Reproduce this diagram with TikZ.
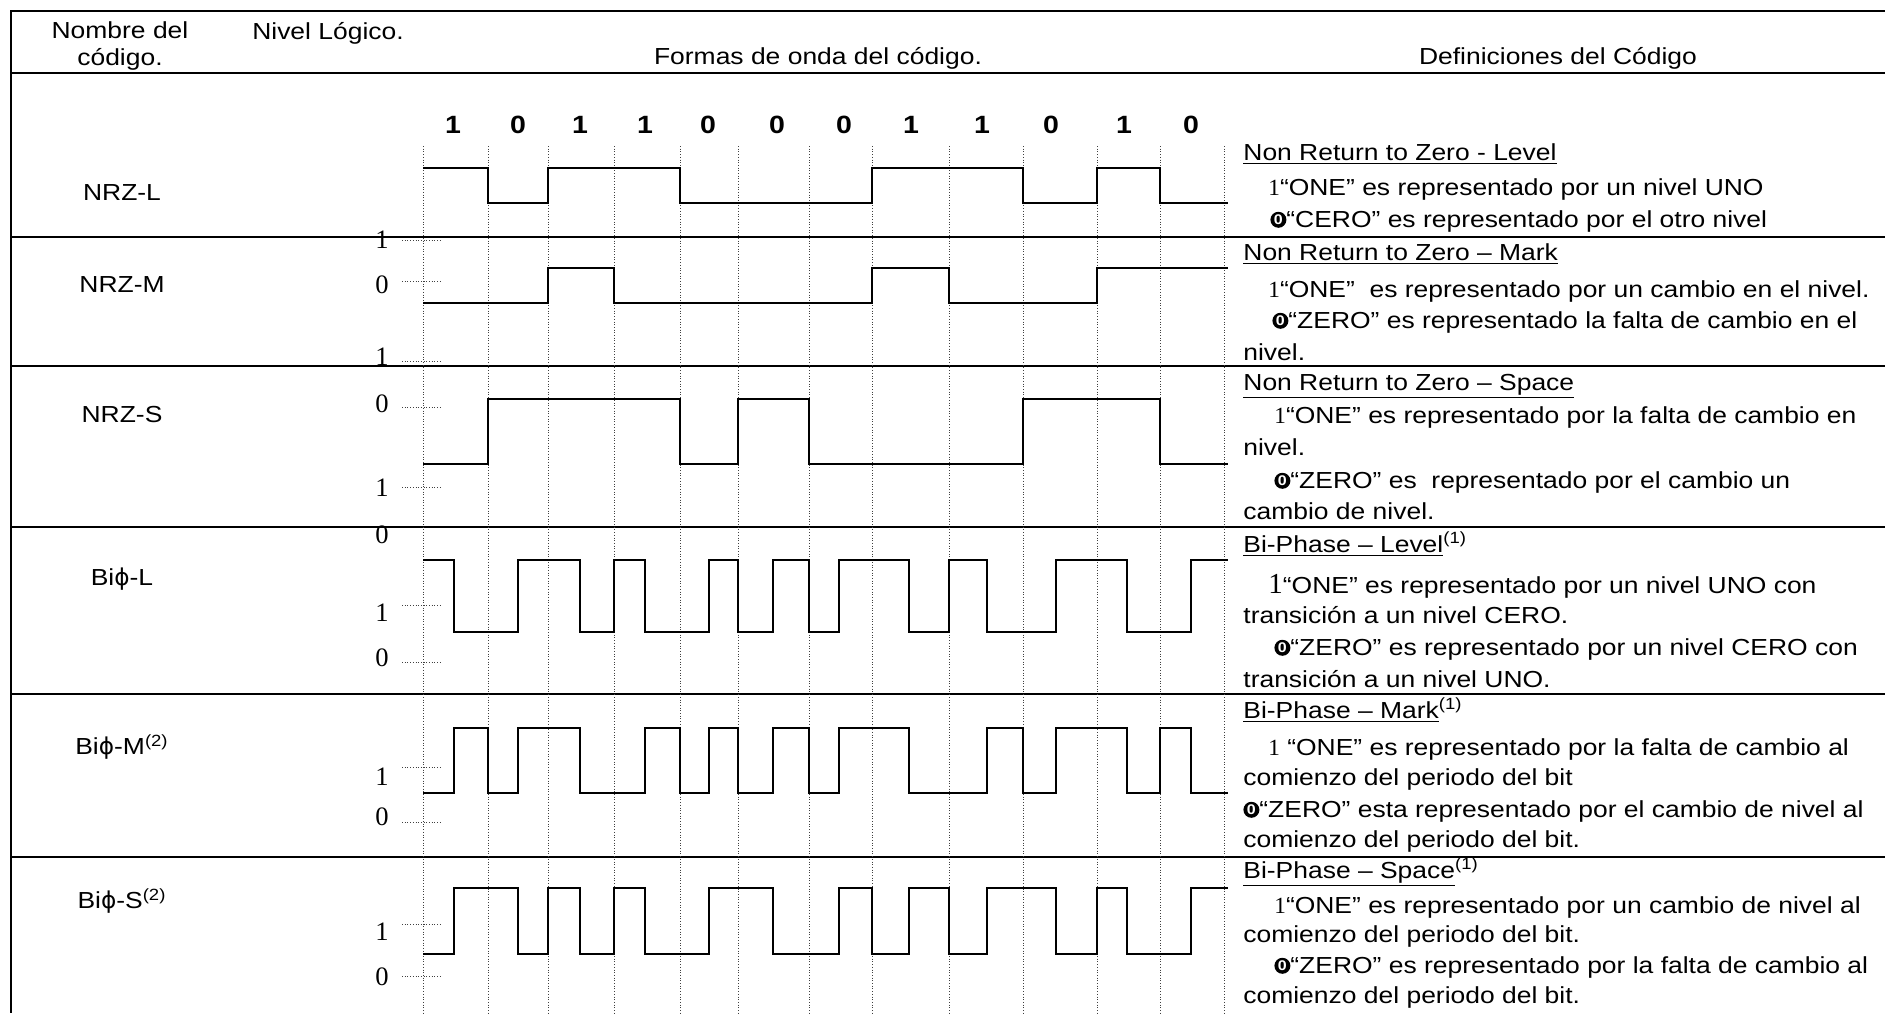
\documentclass[tikz,border=0pt]{standalone}
\usepackage{fontspec}
\setmainfont{Liberation Sans}[FakeStretch=1.14]
\newfontfamily\numfont{Liberation Serif}
\newfontfamily\symfont{DejaVu Sans}

\newcommand{\uno}{{\numfont 1}}
\newcommand{\cero}{\tikz[baseline={([yshift=-1.2pt]cz.base)}]\node[circle, fill=black,
  text=white, inner sep=0pt, minimum size=8pt, font=\fontsize{7}{7}\selectfont\bfseries] (cz) {0};}
\newcommand{\bphi}{{\symfont ϕ}}

\begin{document}
\begin{tikzpicture}[
    x=0.5pt, y=-0.5pt,
    every node/.style = {inner sep=0pt, font=\fontsize{11.6}{12.6}\selectfont},
    hdr/.style        = {align=center},
    bitlbl/.style     = {font=\fontsize{12.5}{13}\selectfont\bfseries},
    lvl/.style        = {font=\fontsize{13.3}{14}\selectfont\numfont},
    defn/.style       = {anchor=base west},
    rowsep/.style     = {line width=1pt},
    gridln/.style     = {densely dotted, line width=0.35pt, black!75},
    lvltick/.style    = {densely dotted, line width=0.35pt, black!75},
    wave/.style       = {line width=0.75pt}
    ]
      \useasboundingbox (0,0) rectangle (1885,1013);

      % table frame ----------------------------------------------
      \draw[rowsep] (1885,11) -- (11,11) -- (11,1013);
      \foreach \sy in {73,237,366,527,694,857}
        \draw[rowsep] (11,\sy) -- (1885,\sy);

      % header ---------------------------------------------------
      \node[hdr] (hname) at (120,46)  {Nombre del\\[1pt]código.};
      \node[hdr] (hlvl)  at (328,33)  {Nivel Lógico.};
      \node[hdr] (hwave) at (818,58)  {Formas de onda del código.};
      \node[hdr] (hdef)  at (1558,58) {Definiciones del Código};

      % code names -----------------------------------------------
      \node (nrzl) at (122,193) {NRZ-L};
      \node (nrzm) at (122,285) {NRZ-M};
      \node (nrzs) at (122,415) {NRZ-S};
      \node (bil)  at (122,579) {Bi\bphi-L};
      \node (bim)  at (122,747) {Bi\bphi-M\textsuperscript{(2)}};
      \node (bis)  at (122,901) {Bi\bphi-S\textsuperscript{(2)}};

      % bit sequence and bit cells -------------------------------
      \foreach \bx/\bv [count=\i] in {453/1,518/0,580/1,645/1,708/0,777/0,
                                      844/0,911/1,982/1,1051/0,1124/1,1191/0}
        \node[bitlbl] (bit\i) at (\bx,125) {\bv};
      \foreach \gx in {423,488,548,614,680,738,809,872,949,1023,1097,1160,1224}
        \draw[gridln] (\gx,146) -- (\gx,1013);

      % logic levels ---------------------------------------------
      \foreach \ty in {240,281,361,407,487,605,662,767,822,924,976}
        \draw[lvltick] (402,\ty) -- (442,\ty);
      \foreach \ly/\lv [count=\i] in {240/1,285/0,357/1,404/0,488/1,535/0,
                                      613/1,658/0,777/1,817/0,932/1,977/0}
        \node[lvl] (lv\i) at (382,\ly) {\lv};

      % waveforms ------------------------------------------------
      % NRZ-L
      \draw[wave] (423,168) -| (488,203) -| (548,168) -| (680,203) -| (872,168)
                  -| (1023,203) -| (1097,168) -| (1160,203) -- (1228,203);
      % NRZ-M
      \draw[wave] (423,303) -| (548,268) -| (614,303) -| (872,268) -| (949,303)
                  -| (1097,268) -- (1228,268);
      % NRZ-S
      \draw[wave] (423,464) -| (488,399) -| (680,464) -| (738,399) -| (809,464)
                  -| (1023,399) -| (1160,464) -- (1228,464);
      % Biphi-L
      \draw[wave] (423,560) -| (454,632) -| (518,560) -| (580,632) -| (614,560)
                  -| (645,632) -| (709,560) -| (738,632) -| (773,560) -| (809,632)
                  -| (839,560) -| (909,632) -| (949,560) -| (987,632) -| (1056,560)
                  -| (1127,632) -| (1191,560) -- (1228,560);
      % Biphi-M
      \draw[wave] (423,793) -| (454,728) -| (488,793) -| (518,728) -| (580,793)
                  -| (645,728) -| (680,793) -| (709,728) -| (738,793) -| (773,728)
                  -| (809,793) -| (839,728) -| (909,793) -| (987,728) -| (1023,793)
                  -| (1056,728) -| (1127,793) -| (1160,728) -| (1191,793) -- (1228,793);
      % Biphi-S
      \draw[wave] (423,954) -| (454,888) -| (518,954) -| (548,888) -| (580,954)
                  -| (614,888) -| (645,954) -| (709,888) -| (773,954) -| (839,888)
                  -| (872,954) -| (909,888) -| (949,954) -| (987,888) -| (1056,954)
                  -| (1097,888) -| (1127,954) -| (1191,888) -- (1228,888);

      % definitions ----------------------------------------------
      \node[defn] (d1a) at (1243,160) {\underline{Non Return to Zero - Level}};
      \node[defn] (d1b) at (1268,195) {\uno“ONE” es representado por un nivel UNO};
      \node[defn] (d1c) at (1270,227) {\cero“CERO” es representado por el otro nivel};

      \node[defn] (d2a) at (1243,260) {\underline{Non Return to Zero – Mark}};
      \node[defn] (d2b) at (1268,297) {\uno“ONE”\ \ es representado por un cambio en el nivel.};
      \node[defn] (d2c) at (1272,328) {\cero“ZERO” es representado la falta de cambio en el};
      \node[defn] (d2d) at (1243,360) {nivel.};

      \node[defn] (d3a) at (1243,390) {\underline{Non Return to Zero – Space}};
      \node[defn] (d3b) at (1274,423) {\uno“ONE” es representado por la falta de cambio en};
      \node[defn] (d3c) at (1243,455) {nivel.};
      \node[defn] (d3d) at (1274,488) {\cero“ZERO” es\ \ representado por el cambio un};
      \node[defn] (d3e) at (1243,519) {cambio de nivel.};

      \node[defn] (d4a) at (1243,552) {\underline{Bi-Phase – Level}\textsuperscript{(1)}};
      \node[defn] (d4b) at (1268,593) {{\fontsize{14.5}{15}\selectfont\uno}“ONE” es representado por un nivel UNO con};
      \node[defn] (d4c) at (1243,623) {transición a un nivel CERO.};
      \node[defn] (d4d) at (1274,655) {\cero“ZERO” es representado por un nivel CERO con};
      \node[defn] (d4e) at (1243,687) {transición a un nivel UNO.};

      \node[defn] (d5a) at (1243,718) {\underline{Bi-Phase – Mark}\textsuperscript{(1)}};
      \node[defn] (d5b) at (1268,755) {\uno\ “ONE” es representado por la falta de cambio al};
      \node[defn] (d5c) at (1243,785) {comienzo del periodo del bit};
      \node[defn] (d5d) at (1243,817) {\cero“ZERO” esta representado por el cambio de nivel al};
      \node[defn] (d5e) at (1243,847) {comienzo del periodo del bit.};

      \node[defn] (d6a) at (1243,878) {\underline{Bi-Phase – Space}\textsuperscript{(1)}};
      \node[defn] (d6b) at (1274,913) {\uno“ONE” es representado por un cambio de nivel al};
      \node[defn] (d6c) at (1243,942) {comienzo del periodo del bit.};
      \node[defn] (d6d) at (1274,973) {\cero“ZERO” es representado por la falta de cambio al};
      \node[defn] (d6e) at (1243,1003) {comienzo del periodo del bit.};
\end{tikzpicture}
\end{document}
